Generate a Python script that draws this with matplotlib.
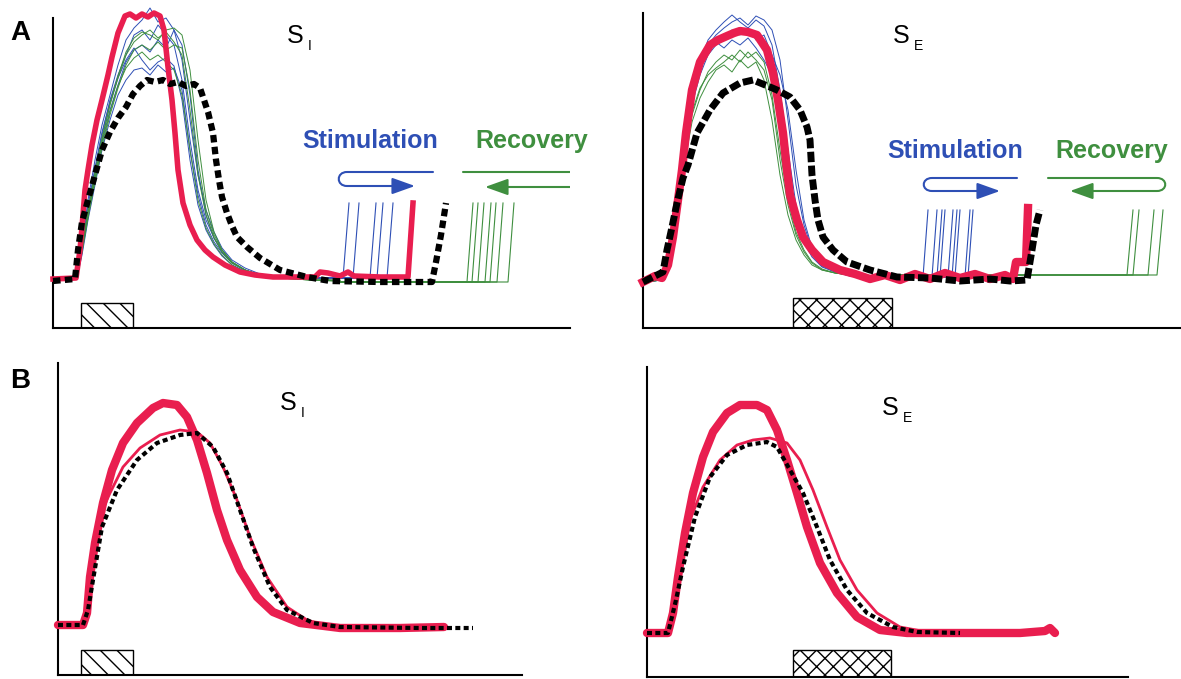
import numpy as np
import matplotlib.pyplot as plt
from matplotlib.path import Path
from matplotlib.patches import FancyArrowPatch, Rectangle

plt.rcParams['font.family'] = ['Liberation Sans', 'DejaVu Sans']
plt.rcParams['hatch.linewidth'] = 1.0

RED = '#e91e4f'
BLUE = '#2e4fb5'
GREEN = '#3f8f3f'

# ---------- panel A, S_I (time in a.u., signal in a.u.) ----------
ai_red_t = [53, 76, 80, 82, 85, 88, 92, 97, 102, 108, 112, 118, 125, 130, 136, 142, 148, 154, 160, 164,
            168, 172, 175, 178, 183, 190, 197, 205, 213, 225, 240, 255, 273, 315, 320, 328, 340, 348, 354,
            380, 408, 413]
ai_red = [49, 50, 78, 101, 138, 158, 183, 208, 228, 253, 271, 295, 312, 314, 310, 314, 311, 315, 312, 298,
          261, 228, 195, 158, 125, 103, 88, 78, 71, 63, 56, 53, 51, 51, 56, 55, 52, 56, 52,
          51, 51, 125]
ai_blk_t = [53, 75, 78, 82, 88, 95, 102, 110, 118, 126, 133, 140, 147, 155, 163, 170, 178, 186, 194, 200,
            204, 208, 213, 216, 219, 222, 227, 232, 237, 247, 260, 280, 307, 330, 380, 432, 436, 441, 446]
ai_blk = [47, 49, 78, 106, 128, 153, 178, 196, 210, 221, 234, 242, 248, 246, 248, 244, 246, 242, 244, 240,
          228, 216, 195, 168, 148, 131, 115, 102, 91, 81, 70, 58, 51, 47, 46, 46, 66, 93, 125]
ai_grid = [53, 77, 82, 88, 95, 102, 110, 118, 126, 134, 142, 150, 158, 166, 174, 182, 190, 198, 206, 214,
           222, 232, 245, 260, 280, 310, 340]
ai_blue = [
    [48, 50, 83, 128, 168, 203, 233, 263, 288, 300, 308, 320, 306, 310, 298, 268, 208, 153, 118, 96, 80, 68, 60, 54, 51, 50, 50],
    [48, 50, 78, 118, 158, 193, 228, 253, 273, 293, 298, 288, 303, 293, 283, 248, 188, 138, 108, 90, 78, 66, 58, 53, 51, 50, 50],
    [48, 50, 73, 108, 143, 178, 208, 233, 248, 258, 260, 253, 263, 256, 260, 238, 178, 133, 103, 86, 75, 65, 58, 53, 51, 50, 50],
    [48, 50, 76, 113, 150, 186, 218, 243, 266, 278, 283, 276, 288, 280, 298, 283, 233, 158, 113, 90, 76, 65, 58, 53, 51, 50, 50],
    [48, 50, 80, 123, 160, 196, 226, 250, 268, 280, 268, 258, 266, 270, 262, 228, 168, 123, 98, 83, 72, 63, 57, 52, 51, 50, 50],
]
ai_green = [
    [48, 50, 78, 116, 153, 188, 223, 250, 273, 286, 293, 298, 290, 296, 286, 273, 218, 153, 113, 90, 76, 65, 58, 53, 51, 49, 48],
    [48, 50, 76, 110, 146, 180, 213, 240, 263, 278, 283, 278, 286, 278, 283, 280, 238, 168, 118, 93, 78, 66, 58, 53, 50, 48, 47],
    [48, 50, 78, 113, 148, 183, 216, 242, 260, 270, 276, 268, 273, 266, 258, 233, 178, 128, 100, 84, 73, 63, 56, 52, 50, 48, 47],
    [48, 50, 79, 118, 156, 190, 224, 252, 276, 290, 296, 293, 288, 298, 300, 293, 258, 188, 128, 96, 78, 66, 58, 53, 50, 48, 47],
]
ai_blue_spk = [343, 353, 370, 377, 387]
ai_green_spk = [467, 472, 478, 485, 490, 497, 508]
ai_blue_base, ai_green_base, ai_spk_top = 50, 46, 125
ai_bar = (81, 133, 25)

# ---------- panel A, S_E ----------
ae_red_t = [643, 655, 662, 668, 673, 678, 682, 686, 692, 700, 710, 718, 727, 734, 740, 748, 757, 767, 773,
            778, 783, 787, 790, 797, 803, 812, 823, 840, 855, 870, 885, 900, 915, 930, 945, 960, 975, 990,
            1005, 1013, 1016, 1026, 1028]
ae_red = [46, 52, 50, 63, 91, 128, 158, 195, 238, 266, 283, 288, 292, 295, 297, 296, 293, 278, 255,
          228, 195, 158, 133, 108, 91, 78, 66, 58, 54, 49, 53, 48, 54, 49, 55, 50, 54, 49,
          53, 49, 66, 66, 120]
ae_blk_t = [643, 663, 667, 672, 677, 683, 688, 697, 710, 723, 740, 753, 770, 777, 790, 800, 807, 810, 812,
            815, 818, 823, 833, 847, 870, 897, 930, 960, 990, 1010, 1027, 1032, 1036, 1040]
ae_blk = [46, 56, 78, 101, 125, 150, 163, 195, 218, 235, 245, 248, 241, 238, 231, 218, 201, 188, 153,
          128, 108, 91, 78, 66, 58, 51, 50, 47, 49, 47, 48, 78, 103, 118]
ae_grid = [643, 662, 668, 674, 680, 686, 692, 700, 708, 716, 724, 732, 740, 748, 756, 764, 772, 780, 788,
           796, 804, 812, 822, 835, 850, 870, 900]
ae_blue = [
    [46, 48, 66, 103, 148, 193, 233, 263, 283, 293, 300, 306, 310, 303, 312, 308, 298, 268, 208, 143, 103, 78, 65, 57, 53, 51, 50],
    [46, 48, 68, 106, 150, 198, 236, 266, 288, 298, 306, 313, 306, 300, 308, 302, 283, 238, 178, 123, 90, 73, 62, 56, 52, 51, 50],
    [46, 48, 64, 98, 140, 186, 223, 253, 273, 283, 290, 298, 293, 300, 288, 293, 273, 253, 218, 158, 108, 80, 66, 58, 53, 51, 50],
    [46, 48, 65, 100, 143, 188, 228, 258, 276, 286, 280, 288, 283, 290, 280, 268, 253, 218, 163, 113, 86, 71, 61, 56, 52, 51, 50],
]
ae_green = [
    [46, 48, 63, 96, 138, 178, 213, 238, 256, 266, 273, 268, 278, 270, 276, 266, 233, 178, 128, 96, 78, 66, 59, 55, 53, 52, 52],
    [46, 48, 62, 93, 133, 173, 206, 230, 246, 258, 263, 256, 268, 260, 266, 248, 208, 153, 113, 88, 73, 63, 58, 55, 53, 52, 52],
    [46, 48, 64, 98, 140, 180, 216, 240, 253, 260, 266, 273, 266, 276, 268, 258, 228, 168, 123, 93, 76, 65, 58, 55, 53, 52, 52],
]
ae_blue_spk = [923, 932, 937, 940, 948, 952, 955, 965, 968]
ae_green_spk = [1127, 1133, 1148, 1157]
ae_blue_base, ae_green_base, ae_spk_top = 51, 53, 118
ae_bar = (793, 892, 30)

# ---------- panel B, S_I ----------
bi_thick_t = [58, 83, 87, 90, 95, 103, 112, 123, 137, 153, 163, 177, 187, 197, 207, 217, 227, 240, 257, 273,
              300, 340, 400, 444]
bi_thick = [50, 50, 62, 98, 132, 172, 205, 232, 252, 267, 272, 270, 258, 235, 202, 165, 135, 105, 78, 63,
            52, 47, 47, 48]
bi_thin_t = [58, 83, 87, 92, 98, 110, 123, 140, 160, 180, 197, 210, 223, 237, 250, 267, 287, 307, 330, 380, 444]
bi_thin = [50, 50, 62, 105, 155, 182, 208, 227, 240, 245, 243, 232, 208, 175, 138, 98, 68, 55, 48, 47, 47]
bi_dot_t = [58, 83, 88, 93, 102, 117, 137, 157, 180, 197, 213, 227, 240, 253, 270, 287, 313, 340, 420, 473]
bi_dot = [50, 50, 65, 95, 148, 185, 215, 232, 240, 242, 228, 202, 165, 128, 88, 65, 52, 48, 47, 47]
bi_bar = (81, 133, 25)

# ---------- panel B, S_E ----------
be_thick_t = [647, 668, 673, 678, 685, 693, 703, 713, 727, 740, 757, 767, 777, 787, 797, 807, 820, 837, 857,
              880, 907, 960, 1020, 1045, 1050, 1055]
be_thick = [44, 44, 64, 100, 144, 184, 220, 245, 264, 272, 272, 267, 247, 217, 184, 150, 114, 84, 60,
            47, 44, 44, 44, 46, 49, 44]
be_thin_t = [647, 668, 673, 680, 690, 703, 720, 737, 753, 770, 787, 800, 813, 827, 840, 857, 877, 900, 927, 960]
be_thin = [44, 44, 64, 112, 157, 190, 217, 232, 237, 239, 234, 217, 187, 150, 117, 87, 64, 50, 45, 44]
be_dot_t = [647, 668, 676, 683, 695, 710, 727, 747, 767, 777, 790, 803, 817, 830, 847, 867, 893, 917, 960]
be_dot = [44, 44, 77, 110, 160, 200, 222, 232, 235, 230, 207, 184, 150, 117, 87, 64, 50, 45, 44]
be_bar = (793, 891, 27)

W, H = 1181, 679
fig = plt.figure(figsize=(W / 100, H / 100), dpi=100)


def make_ax(x0, x1, ytop, ybot):
    ax = fig.add_axes([x0 / W, (H - ybot) / H, (x1 - x0) / W, (ybot - ytop) / H])
    ax.set_xlim(x0, x1)
    ax.set_ylim(0, ybot - ytop)
    for s in ['top', 'right']:
        ax.spines[s].set_visible(False)
    for s in ['left', 'bottom']:
        ax.spines[s].set_linewidth(1.5)
    ax.set_xticks([])
    ax.set_yticks([])
    ax.patch.set_alpha(0)
    return ax


def bar(ax, b, hatch):
    ax.add_patch(Rectangle((b[0], 0), b[1] - b[0], b[2], fill=False, hatch=hatch,
                           edgecolor='black', lw=1.0, zorder=1))


def loop(ax, x_far, x_turn, x_tip, y_top, y_bot, color, side):
    r = 11 * side
    verts = [(x_far, y_top), (x_turn, y_top), (x_turn - r, y_top), (x_turn - r, y_bot),
             (x_turn, y_bot), (x_tip, y_bot)]
    codes = [Path.MOVETO, Path.LINETO, Path.CURVE4, Path.CURVE4, Path.CURVE4, Path.LINETO]
    ax.add_patch(FancyArrowPatch(path=Path(verts, codes), arrowstyle='-|>,head_length=14,head_width=5',
                                 mutation_scale=1, color=color, lw=1.5, zorder=6))


def label(ax, x, y, main, sub, off, size=18):
    ax.text(x, y, main, fontsize=size, va='baseline', ha='left')
    ax.text(x + off, y - 7, sub, fontsize=10, va='baseline', ha='left')


def spikes(ax, start, xs, base, top, color, dx):
    for sx in xs:
        ax.plot([start, sx, sx + dx], [base, base, top], color=color, lw=0.8, zorder=2, clip_on=False)


# ---- A left
ax = make_ax(53, 570, 18, 328)
for tr in ai_blue:
    ax.plot(ai_grid, tr, color=BLUE, lw=0.7, zorder=2, clip_on=False)
for tr in ai_green:
    ax.plot(ai_grid, tr, color=GREEN, lw=0.7, zorder=2, clip_on=False)
spikes(ax, 340, ai_blue_spk, ai_blue_base, ai_spk_top, BLUE, 6)
spikes(ax, 340, ai_green_spk, ai_green_base, ai_spk_top, GREEN, 6)
ax.plot(ai_red_t, ai_red, color=RED, lw=4, zorder=3, solid_joinstyle='round', clip_on=False)
ax.plot(ai_blk_t, ai_blk, color='black', lw=4.5, dashes=(1.2, 0.7), zorder=4, clip_on=False)
bar(ax, ai_bar, '\\\\')
label(ax, 287, 285, 'S', 'I', 21)
ax.text(302, 180, 'Stimulation', color=BLUE, fontsize=18, fontweight='bold', va='baseline')
ax.text(475, 180, 'Recovery', color=GREEN, fontsize=18, fontweight='bold', va='baseline')
loop(ax, 433, 347, 415, 156, 142, BLUE, 1)
loop(ax, 463, 570, 485, 156, 141, GREEN, -1)

# ---- A right
ax = make_ax(643, 1181, 13, 328)
for tr in ae_blue:
    ax.plot(ae_grid, tr, color=BLUE, lw=0.7, zorder=2, clip_on=False)
for tr in ae_green:
    ax.plot(ae_grid, tr, color=GREEN, lw=0.7, zorder=2, clip_on=False)
spikes(ax, 900, ae_blue_spk, ae_blue_base, ae_spk_top, BLUE, 5)
spikes(ax, 900, ae_green_spk, ae_green_base, ae_spk_top, GREEN, 6)
ax.plot(ae_red_t, ae_red, color=RED, lw=6, zorder=3, solid_joinstyle='round', clip_on=False)
ax.plot(ae_blk_t, ae_blk, color='black', lw=5, dashes=(1.5, 0.5), zorder=4, clip_on=False)
bar(ax, ae_bar, 'xx')
label(ax, 893, 285, 'S', 'E', 21)
ax.text(887, 170, 'Stimulation', color=BLUE, fontsize=18, fontweight='bold', va='baseline')
ax.text(1055, 170, 'Recovery', color=GREEN, fontsize=18, fontweight='bold', va='baseline')
loop(ax, 1017, 932, 1000, 150, 137, BLUE, 1)
loop(ax, 1048, 1157, 1070, 150, 137, GREEN, -1)

# ---- B left
ax = make_ax(58, 522, 363, 675)
ax.plot(bi_thick_t, bi_thick, color=RED, lw=6, zorder=3, solid_capstyle='round', clip_on=False)
ax.plot(bi_thin_t, bi_thin, color=RED, lw=2, zorder=3, clip_on=False)
ax.plot(bi_dot_t, bi_dot, color='black', lw=3, dashes=(1.2, 0.8), zorder=4, clip_on=False)
bar(ax, bi_bar, '\\\\')
label(ax, 280, 265, 'S', 'I', 21)

# ---- B right
ax = make_ax(647, 1128, 367, 677)
ax.plot(be_thick_t, be_thick, color=RED, lw=6, zorder=3, solid_capstyle='round', clip_on=False)
ax.plot(be_thin_t, be_thin, color=RED, lw=2, zorder=3, clip_on=False)
ax.plot(be_dot_t, be_dot, color='black', lw=3, dashes=(1.2, 0.8), zorder=4, clip_on=False)
bar(ax, be_bar, 'xx')
label(ax, 882, 262, 'S', 'E', 21)

fig.text(10 / W, 1 - 40 / H, 'A', fontsize=20, fontweight='bold', va='baseline')
fig.text(10 / W, 1 - 388 / H, 'B', fontsize=20, fontweight='bold', va='baseline')

fig.savefig('out.png', dpi=100)
